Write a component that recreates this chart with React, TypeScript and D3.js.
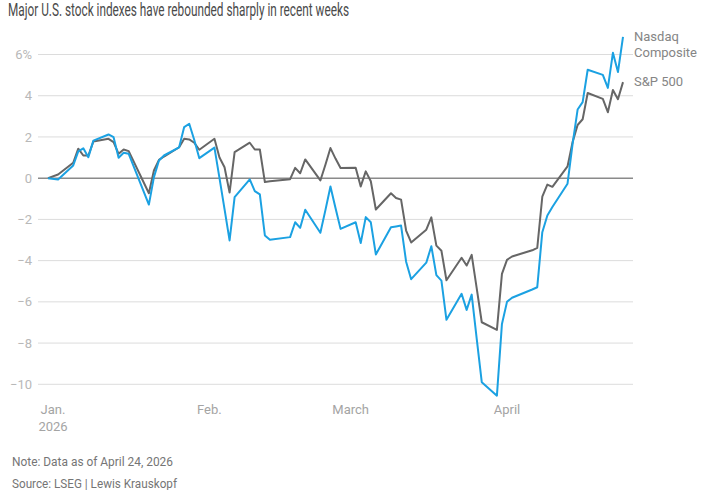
import React from 'react';
import * as d3 from 'd3';

const W = 723;
const H = 490;

// trading days, % change since Dec. 31
const dates = [
  '2025-12-31', '2026-01-02', '2026-01-05', '2026-01-06', '2026-01-07', '2026-01-08', '2026-01-09',
  '2026-01-12', '2026-01-13', '2026-01-14', '2026-01-15', '2026-01-16', '2026-01-20', '2026-01-21',
  '2026-01-22', '2026-01-23', '2026-01-26', '2026-01-27', '2026-01-28', '2026-01-29', '2026-01-30',
  '2026-02-02', '2026-02-03', '2026-02-04', '2026-02-05', '2026-02-06', '2026-02-09', '2026-02-10',
  '2026-02-11', '2026-02-12', '2026-02-13', '2026-02-17', '2026-02-18', '2026-02-19', '2026-02-20',
  '2026-02-23', '2026-02-24', '2026-02-25', '2026-02-26', '2026-02-27', '2026-03-02', '2026-03-03',
  '2026-03-04', '2026-03-05', '2026-03-06', '2026-03-09', '2026-03-10', '2026-03-11', '2026-03-12',
  '2026-03-13', '2026-03-16', '2026-03-17', '2026-03-18', '2026-03-19', '2026-03-20', '2026-03-23',
  '2026-03-24', '2026-03-25', '2026-03-26', '2026-03-27', '2026-03-30', '2026-03-31', '2026-04-01',
  '2026-04-02', '2026-04-06', '2026-04-07', '2026-04-08', '2026-04-09', '2026-04-10', '2026-04-13',
  '2026-04-14', '2026-04-15', '2026-04-16', '2026-04-17', '2026-04-20', '2026-04-21', '2026-04-22',
  '2026-04-23', '2026-04-24',
];

const sp500 = [
  0, 0.18, 0.75, 1.43, 1.1, 1.1, 1.78,
  1.91, 1.75, 1.18, 1.39, 1.31, -0.73, 0.37,
  0.89, 1.05, 1.5, 1.91, 1.88, 1.72, 1.38,
  1.91, 1.0, 0.53, -0.7, 1.26, 1.72, 1.39,
  1.39, -0.19, -0.15, -0.05, 0.5, 0.24, 0.91,
  -0.11, 0.65, 1.46, 0.95, 0.49, 0.51, -0.4,
  0.33, -0.15, -1.52, -0.73, -0.96, -1.04, -2.54,
  -3.12, -2.5, -1.9, -3.27, -3.52, -4.95, -3.86,
  -4.24, -3.72, -5.35, -6.99, -7.36, -4.64, -3.96,
  -3.8, -3.5, -3.38, -0.9, -0.31, -0.42, 0.57,
  1.75, 2.58, 2.86, 4.13, 3.85, 3.2, 4.28,
  3.83, 4.66,
];

const nasdaq = [
  0, -0.06, 0.62, 1.3, 1.45, 1.02, 1.82,
  2.12, 1.99, 0.99, 1.23, 1.18, -1.28, 0.05,
  0.86, 1.1, 1.5, 2.48, 2.64, 1.85, 0.97,
  1.48, 0.0, -1.5, -3.02, -0.92, -0.06, -0.63,
  -0.79, -2.78, -2.99, -2.86, -2.14, -2.41, -1.53,
  -2.65, -1.55, -0.4, -1.45, -2.46, -2.14, -3.15,
  -1.89, -2.14, -3.7, -2.38, -2.34, -2.3, -4.05,
  -4.9, -4.1, -3.3, -4.7, -4.97, -6.87, -5.61,
  -6.39, -5.65, -7.8, -9.9, -10.55, -7.07, -6.0,
  -5.8, -5.4, -5.29, -2.62, -1.81, -1.4, -0.27,
  1.65, 3.33, 3.69, 5.26, 5.01, 4.38, 6.08,
  5.15, 6.86,
];

const yTicks = [6, 4, 2, 0, -2, -4, -6, -8, -10];
const monthTicks = [
  { date: '2026-01-01', label: 'Jan.', sub: '2026' },
  { date: '2026-02-01', label: 'Feb.', sub: '' },
  { date: '2026-03-01', label: 'March', sub: '' },
  { date: '2026-04-01', label: 'April', sub: '' },
];

const title = 'Major U.S. stock indexes have rebounded sharply in recent weeks';
const note = 'Note: Data as of April 24, 2026';
const source = 'Source: LSEG | Lewis Krauskopf';

const FONT = 'Roboto, "Liberation Sans", sans-serif';

const parse = d3.timeParse('%Y-%m-%d');

export default function App() {
  const x = d3
    .scaleTime()
    .domain([parse('2025-12-31')!, parse('2026-04-24')!])
    .range([48, 623]);
  const y = d3.scaleLinear().domain([-10, 6]).range([384.3, 54.5]);

  const rows = dates.map((d, i) => ({ date: parse(d)!, sp: sp500[i], nq: nasdaq[i] }));
  const spLine = d3
    .line<(typeof rows)[number]>()
    .x((d) => x(d.date))
    .y((d) => y(d.sp));
  const nqLine = d3
    .line<(typeof rows)[number]>()
    .x((d) => x(d.date))
    .y((d) => y(d.nq));

  const gridX0 = 38;
  const gridX1 = 633;
  const last = rows[rows.length - 1];

  return (
    <svg
      width={W}
      height={H}
      style={{ position: 'absolute', left: 0, top: 0, background: '#fff' }}
      fontFamily={FONT}
    >
      <text
        x={8}
        y={16}
        fontSize={18}
        fill="#4a4a4a"
        textLength={341}
        lengthAdjust="spacingAndGlyphs"
      >
        {title}
      </text>

      {yTicks.map((t) => (
        <g key={t}>
          <line
            x1={gridX0}
            x2={gridX1}
            y1={y(t)}
            y2={y(t)}
            stroke={t === 0 ? '#8a8a8a' : '#dcdcdc'}
            strokeWidth={t === 0 ? 1.5 : 1}
          />
          <text
            x={32}
            y={y(t)}
            dy="0.35em"
            textAnchor="end"
            fontSize={13}
            fill="#b8b8b8"
          >
            {t === 6 ? '6%' : t < 0 ? `\u2212${Math.abs(t)}` : t}
          </text>
        </g>
      ))}

      {monthTicks.map((m) => (
        <g key={m.date} fontSize={13} fill="#a4a4a4" textAnchor="middle">
          <text x={x(parse(m.date)!)} y={414}>
            {m.label}
          </text>
          {m.sub && (
            <text x={x(parse(m.date)!)} y={431}>
              {m.sub}
            </text>
          )}
        </g>
      ))}

      <path d={spLine(rows)!} fill="none" stroke="#666666" strokeWidth={2} strokeLinejoin="round" />
      <path d={nqLine(rows)!} fill="none" stroke="#1ba1e2" strokeWidth={2} strokeLinejoin="round" />

      <g fontSize={13} fill="#858585">
        <text x={634} y={y(last.nq) + 4}>Nasdaq</text>
        <text x={634} y={y(last.nq) + 20}>Composite</text>
        <text x={634} y={y(last.sp) + 4}>S&amp;P 500</text>
      </g>

      <g fontSize={12.5} fill="#757575">
        <text x={12} y={466} textLength={161} lengthAdjust="spacingAndGlyphs">
          {note}
        </text>
        <text x={12} y={488} textLength={165} lengthAdjust="spacingAndGlyphs">
          {source}
        </text>
      </g>
    </svg>
  );
}
